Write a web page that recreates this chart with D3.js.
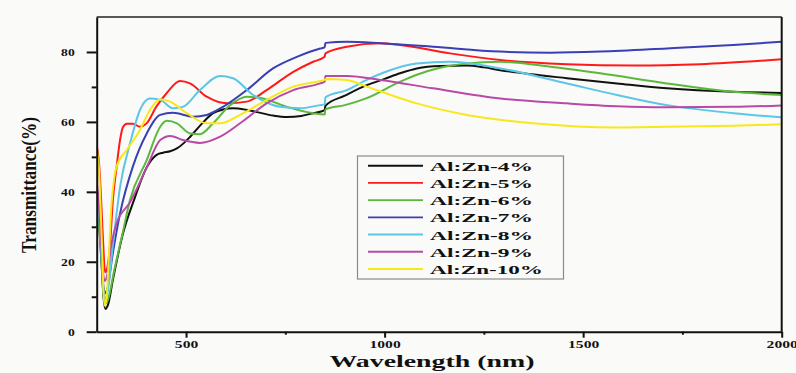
<!DOCTYPE html>
<html>
<head>
<meta charset="utf-8">
<script src="https://cdn.jsdelivr.net/npm/d3@7"></script>
<style>
  html, body { margin: 0; padding: 0; background: #fafaf8; }
  svg { display: block; }
  text { font-family: "Liberation Serif", "Times New Roman", serif; font-weight: bold; fill: #111; }
</style>
</head>
<body>
<svg id="chart" width="796" height="373"></svg>
<script>
// Transmittance spectra [wavelength nm, transmittance %]
const al4 = [[276,32],[281,30],[287,20],[292,10],[297,6.5],[303,7.5],[316,15],[341,28],[370,38],[401,47],[425,50.5],[442,51.2],[460,51.6],[477,52.4],[495,54],[510,55.7],[540,59.5],[568,62.5],[595,63.6],[618,63.9],[650,63.5],[679,62.8],[720,61.8],[754,61.4],[790,61.7],[820,62.5],[849,63.4],[851,64.6],[900,67.5],[955,70.5],[1000,72.3],[1039,73.9],[1081,75.3],[1140,76],[1207,76.1],[1250,75.6],[1291,74.8],[1370,73.6],[1459,72.5],[1585,71],[1711,69.6],[1878,68.6],[2000,68.3]];
const al5 = [[276,52.5],[281,48],[286,38],[291,26],[296,17],[301,18],[308,24],[316,38],[325,47],[334,55],[341,58.5],[351,59.5],[366,59.5],[384,58.6],[400,59.5],[426,64.5],[451,68.2],[485,71.7],[510,71],[552,67.2],[603,65.3],[653,65.8],[703,69.1],[770,74.3],[820,77.2],[849,78.6],[851,79.6],[905,81.5],[989,82.5],[1039,82],[1165,79.6],[1291,77.7],[1459,76.5],[1626,76.1],[1795,76.5],[2000,77.9]];
const al6 = [[276,35],[281,30],[287,20],[292,11],[297,8],[303,9],[320,18],[340,28],[359,37.7],[401,49.1],[435,58.6],[451,60.3],[477,59.6],[510,56.7],[535,56.5],[568,59.6],[611,64.8],[653,67.2],[694,66.7],[754,64.3],[820,62.5],[849,62.1],[851,63.6],[900,64.8],[955,66.8],[1039,71.5],[1081,73.5],[1140,75.5],[1207,76.7],[1291,77.2],[1417,75.8],[1543,73.9],[1711,71],[1878,68.6],[2000,67.7]];
const al7 = [[276,40],[281,34],[287,22],[292,13],[297,11],[303,13],[315,22],[334,33.9],[366,47.2],[401,56.7],[435,62],[467,62.6],[518,61.5],[552,62],[593,64.3],[653,69.1],[719,75.3],[779,78.6],[838,81],[849,81.3],[851,82.6],[905,82.9],[989,82.5],[1122,81.5],[1291,80.1],[1417,79.8],[1543,80.1],[1711,81],[1878,82],[2000,82.9]];
const al8 = [[276,38],[281,33],[287,22],[292,12],[296,9.5],[302,11],[316,25],[334,41.5],[359,53.9],[384,63.4],[409,66.7],[435,66.3],[467,63.9],[492,64.3],[535,69.1],[586,73.1],[618,72.5],[669,67.7],[737,64.3],[787,63.9],[838,64.8],[849,65],[851,67],[905,69.1],[955,72],[1000,74.2],[1081,76.7],[1165,77.2],[1291,75.3],[1459,71],[1585,67.7],[1711,64.8],[1878,62.5],[2000,61.3]];
const al9 = [[276,42],[281,36],[286,26],[291,17],[295,14.5],[300,15.5],[312,25],[325,31],[359,37],[401,47],[435,54.8],[460,56],[492,54.8],[535,54],[586,55.8],[636,59.6],[703,65.3],[770,69.1],[838,71],[849,71.5],[851,73.1],[905,73.1],[989,72],[1122,69.6],[1291,66.7],[1459,65.3],[1585,64.5],[1711,64.2],[1878,64.3],[2000,64.7]];
const al10 = [[276,51.5],[281,46],[285,35],[289,22],[294,7.5],[299,9],[305,20],[312,36],[318,43],[325,47.2],[351,52],[384,57.7],[409,63.4],[435,66.5],[460,65.8],[502,62.5],[552,59.6],[586,59.6],[636,62],[703,66.3],[770,70.1],[838,71.7],[849,72],[851,72.3],[905,72],[955,70.1],[1081,65.3],[1207,62],[1374,59.6],[1585,58.4],[1711,58.6],[1878,58.9],[2000,59.3]];

const seriesNames = ["Al:Zn-4%", "Al:Zn-5%", "Al:Zn-6%", "Al:Zn-7%", "Al:Zn-8%", "Al:Zn-9%", "Al:Zn-10%"];
const seriesData = [al4, al5, al6, al7, al8, al9, al10];
const seriesColors = ["#111111", "#ff1a1a", "#5cb83c", "#3a3fb3", "#5cc6e6", "#b84aa6", "#f7e81a"];

const xTicks = [500, 1000, 1500, 2000];
const xMinorTicks = [750, 1250, 1750];
const yTicks = [0, 20, 40, 60, 80];
const yMinorTicks = [10, 30, 50, 70];

const svg = d3.select("#chart");
const plotLeft = 96.7, plotRight = 781.7, plotTop = 17, plotBottom = 331.7;

const x = d3.scaleLinear().domain([275, 2000]).range([plotLeft, plotRight]);
const y = d3.scaleLinear().domain([0, 90]).range([plotBottom, plotTop]);

svg.append("defs").append("clipPath").attr("id", "plotClip")
  .append("rect").attr("x", plotLeft).attr("y", plotTop)
  .attr("width", plotRight - plotLeft).attr("height", plotBottom - plotTop);

// spectra
const line = d3.line().x(d => x(d[0])).y(d => y(d[1])).curve(d3.curveMonotoneX);
const lines = svg.append("g").attr("clip-path", "url(#plotClip)");
seriesData.forEach((s, i) => {
  lines.append("path").datum(s)
    .attr("d", line)
    .attr("fill", "none")
    .attr("stroke", seriesColors[i])
    .attr("stroke-width", 2)
    .attr("stroke-linejoin", "round");
});

// frame: top and right borders
svg.append("line").attr("x1", plotLeft).attr("x2", plotRight).attr("y1", plotTop).attr("y2", plotTop)
  .attr("stroke", "#222").attr("stroke-width", 1.6);
svg.append("line").attr("x1", plotRight).attr("x2", plotRight).attr("y1", plotTop).attr("y2", plotBottom)
  .attr("stroke", "#111").attr("stroke-width", 2);

// x axis
const xAxis = svg.append("g").attr("transform", `translate(0,${plotBottom})`)
  .call(d3.axisBottom(x).tickValues(xTicks).tickSize(6).tickSizeOuter(0).tickFormat(d3.format("d")));
const xMinor = svg.append("g").attr("transform", `translate(0,${plotBottom})`)
  .call(d3.axisBottom(x).tickValues(xMinorTicks).tickSize(3).tickSizeOuter(0).tickFormat(""));
xMinor.select(".domain").remove();
xAxis.select(".domain").attr("stroke", "#111").attr("stroke-width", 2);
xAxis.selectAll(".tick line").attr("stroke", "#111").attr("stroke-width", 2);
xMinor.selectAll(".tick line").attr("stroke", "#111").attr("stroke-width", 2);
xAxis.selectAll(".tick text")
  .attr("y", 8.5).attr("dy", "0.71em")
  .style("font-size", "10.5px")
  .attr("textLength", d => String(d).length * 7.8)
  .attr("lengthAdjust", "spacingAndGlyphs")
  .attr("fill", "#111");

// y axis
const yAxis = svg.append("g").attr("transform", `translate(${plotLeft},0)`)
  .call(d3.axisLeft(y).tickValues(yTicks).tickSize(10).tickSizeOuter(0).tickFormat(d3.format("d")));
const yMinor = svg.append("g").attr("transform", `translate(${plotLeft},0)`)
  .call(d3.axisLeft(y).tickValues(yMinorTicks).tickSize(5).tickSizeOuter(0).tickFormat(""));
yMinor.select(".domain").remove();
yAxis.select(".domain").attr("stroke", "#111").attr("stroke-width", 2);
yAxis.selectAll(".tick line").attr("stroke", "#111").attr("stroke-width", 2);
yMinor.selectAll(".tick line").attr("stroke", "#111").attr("stroke-width", 2);
yAxis.selectAll(".tick text")
  .attr("x", -22).attr("dy", "0.35em")
  .style("font-size", "10px")
  .attr("textLength", d => String(d).length * 6.8)
  .attr("lengthAdjust", "spacingAndGlyphs")
  .attr("fill", "#111");

// axis titles
svg.append("text")
  .attr("x", 432).attr("y", 367)
  .attr("text-anchor", "middle")
  .style("font-size", "17px")
  .attr("textLength", 205)
  .attr("lengthAdjust", "spacingAndGlyphs")
  .text("Wavelength (nm)");

svg.append("text")
  .attr("transform", "translate(36,185) rotate(-90)")
  .attr("text-anchor", "middle")
  .style("font-size", "22px")
  .attr("textLength", 136)
  .attr("lengthAdjust", "spacingAndGlyphs")
  .text("Transmittance(%)");

// legend
const legend = svg.append("g");
legend.append("rect")
  .attr("x", 357.5).attr("y", 156).attr("width", 206).attr("height", 123)
  .attr("fill", "#fafaf8").attr("stroke", "#8a8a8a").attr("stroke-width", 1.2);
const rowY = d3.scaleLinear().domain([0, 6]).range([165.7, 269]);
seriesNames.forEach((name, i) => {
  const yy = rowY(i);
  legend.append("line")
    .attr("x1", 368).attr("x2", 423).attr("y1", yy).attr("y2", yy)
    .attr("stroke", seriesColors[i]).attr("stroke-width", 1.9);
  legend.append("text")
    .attr("x", 430).attr("y", yy + 5)
    .style("font-size", "13.5px")
    .attr("textLength", name.length === 8 ? 103 : 113)
    .attr("lengthAdjust", "spacingAndGlyphs")
    .text(name);
});
</script>
</body>
</html>
